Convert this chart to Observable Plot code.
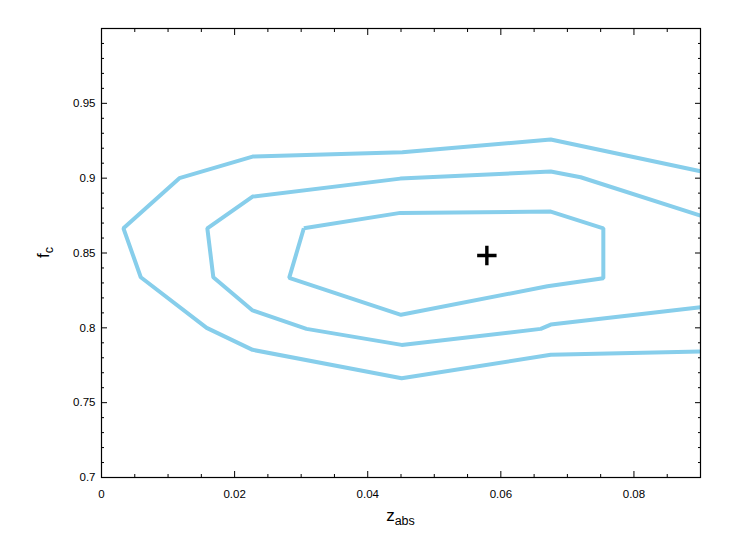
<!DOCTYPE html>
<html>
<head>
<meta charset="utf-8">
<script src="https://cdn.jsdelivr.net/npm/d3@7"></script>
<script src="https://cdn.jsdelivr.net/npm/@observablehq/plot@0.6"></script>
<style>
  body { margin: 0; background: #ffffff; }
  #chart svg { display: block; }
</style>
</head>
<body>
<div id="chart"></div>
<script>
// Outer contour (open, both ends on the right edge)
const outerX = [0.09, 0.0675, 0.0452, 0.0227, 0.0117, 0.0033, 0.0059, 0.0158, 0.0227, 0.0451, 0.0675, 0.09];
const outerY = [0.9046, 0.9258, 0.9173, 0.9144, 0.9000, 0.8665, 0.8338, 0.8000, 0.7853, 0.7663, 0.7820, 0.7842];

// Middle contour (open)
const middleX = [0.09, 0.0720, 0.0675, 0.0449, 0.0227, 0.0159, 0.0168, 0.0227, 0.0308, 0.0451, 0.0660, 0.0675, 0.09];
const middleY = [0.8750, 0.9006, 0.9044, 0.8997, 0.8877, 0.8665, 0.8338, 0.8116, 0.7993, 0.7886, 0.7993, 0.8022, 0.8138];

// Inner contour (closed)
const innerX = [0.0304, 0.0449, 0.0675, 0.0754, 0.0754, 0.0670, 0.0450, 0.0282, 0.0304];
const innerY = [0.8665, 0.8768, 0.8777, 0.8665, 0.8331, 0.8278, 0.8087, 0.8334, 0.8665];

// Best-fit marker
const bestX = [0.0579];
const bestY = [0.8483];

// Ticks
const xMajorTicks = [0, 0.02, 0.04, 0.06, 0.08];
const xMinorTicks = [0.005, 0.01, 0.015, 0.025, 0.03, 0.035, 0.045, 0.05, 0.055, 0.065, 0.07, 0.075, 0.085];
const yMajorTicks = [0.7, 0.75, 0.8, 0.85, 0.9, 0.95, 1.0];
const yLabelTicks = [0.7, 0.75, 0.8, 0.85, 0.9, 0.95];
const yMinorTicks = [0.71, 0.72, 0.73, 0.74, 0.76, 0.77, 0.78, 0.79, 0.81, 0.82, 0.83, 0.84,
                     0.86, 0.87, 0.88, 0.89, 0.91, 0.92, 0.93, 0.94, 0.96, 0.97, 0.98, 0.99];

const toRows = (xs, ys, name) => xs.map((x, i) => ({x, y: ys[i], contour: name}));
const contours = [
  ...toRows(outerX, outerY, "outer"),
  ...toRows(middleX, middleY, "middle"),
  ...toRows(innerX, innerY, "inner")
];
const best = toRows(bestX, bestY, "best");

const W = 751, H = 558;
const mL = 101, mR = 51, mT = 28, mB = 81;
const font = "Liberation Sans, Arial, Helvetica, sans-serif";
const lineColor = "#87CEEB";

const blank = () => "";
const plot = Plot.plot({
  width: W,
  height: H,
  marginLeft: mL,
  marginRight: mR,
  marginTop: mT,
  marginBottom: mB,
  style: {fontFamily: font, background: "#ffffff", color: "#000000"},
  x: {domain: [0, 0.09], label: null},
  y: {domain: [0.7, 1.0], label: null},
  marks: [
    Plot.line(contours, {x: "x", y: "y", z: "contour", stroke: lineColor, strokeWidth: 4,
      strokeLinejoin: "miter", strokeLinecap: "butt"}),
    Plot.dot(best, {x: "x", y: "y", symbol: "plus", r: 6.3, stroke: "#000000", strokeWidth: 3.4,
      strokeLinecap: "butt", fill: "none"}),
    // bottom axis
    Plot.axisX(xMajorTicks, {anchor: "bottom", tickSize: -6, tickPadding: 18, label: null,
      tickFormat: d => String(d), fontSize: 11.5, strokeWidth: 1}),
    Plot.axisX(xMinorTicks, {anchor: "bottom", tickSize: -3, tickPadding: 0, label: null, tickFormat: blank}),
    // top axis (ticks only)
    Plot.axisX(xMajorTicks, {anchor: "top", tickSize: -6, tickPadding: 0, label: null, tickFormat: blank}),
    Plot.axisX(xMinorTicks, {anchor: "top", tickSize: -3, tickPadding: 0, label: null, tickFormat: blank}),
    // left axis
    Plot.axisY(yLabelTicks, {anchor: "left", tickSize: -6, tickPadding: 12, label: null,
      tickFormat: d => String(d), fontSize: 11.5}),
    Plot.axisY(yMinorTicks, {anchor: "left", tickSize: -3, tickPadding: 0, label: null, tickFormat: blank}),
    // right axis (ticks only)
    Plot.axisY(yMajorTicks, {anchor: "right", tickSize: -6, tickPadding: 0, label: null, tickFormat: blank}),
    Plot.axisY(yMinorTicks, {anchor: "right", tickSize: -3, tickPadding: 0, label: null, tickFormat: blank}),
    Plot.frame({stroke: "#000000", strokeWidth: 1.2})
  ]
});

// Axis titles with subscripts
const svg = d3.select(plot);
const cx = mL + (W - mL - mR) / 2;
const cy = mT + (H - mT - mB) / 2;

const xt = svg.append("text")
  .attr("x", cx).attr("y", 521)
  .attr("text-anchor", "middle")
  .attr("font-family", font)
  .attr("font-size", 17)
  .attr("fill", "#000");
xt.append("tspan").text("z");
xt.append("tspan").attr("font-size", 12.5).attr("dy", 4).text("abs");

const yt = svg.append("text")
  .attr("transform", `translate(49,${cy}) rotate(-90)`)
  .attr("text-anchor", "middle")
  .attr("font-family", font)
  .attr("font-size", 17)
  .attr("fill", "#000");
yt.append("tspan").text("f");
yt.append("tspan").attr("font-size", 12.5).attr("dy", 4).text("c");

document.getElementById("chart").appendChild(plot);
</script>
</body>
</html>
